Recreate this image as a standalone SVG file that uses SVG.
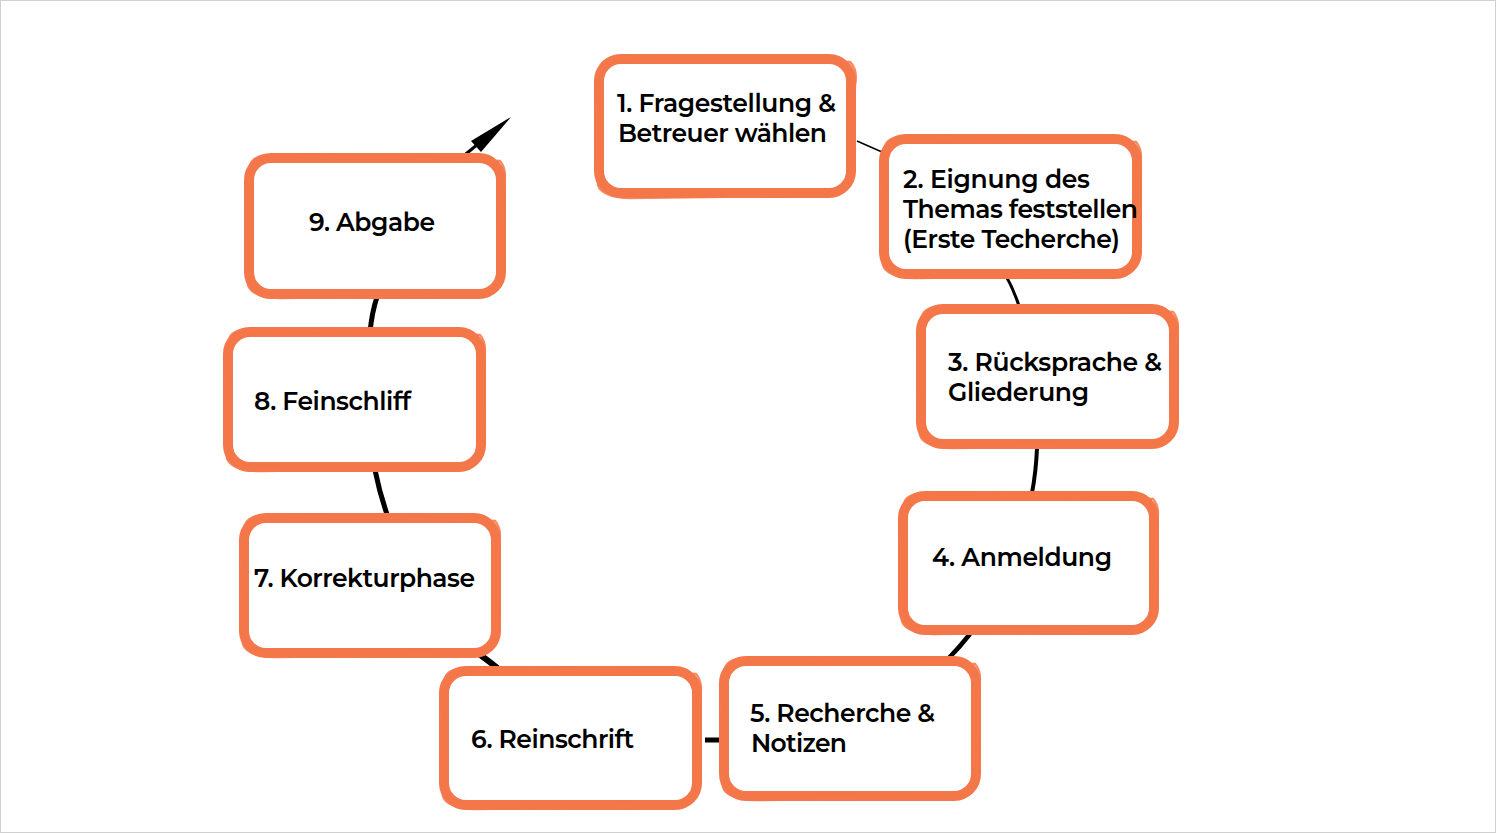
<svg xmlns="http://www.w3.org/2000/svg" width="1496" height="833" viewBox="0 0 1496 833">
<defs>
<style>
.box{fill:#fff;stroke:#F4774A;stroke-width:10}
.sk{fill:none;stroke:#F4774A;stroke-width:2.5;opacity:0.85}
.t{font-family:"Montserrat","Open Sans","Noto Sans",sans-serif;font-weight:600;font-size:25px;fill:#000}
.c{fill:none;stroke:#000;stroke-linecap:butt}
</style>
</defs>
<rect x="0.5" y="0.5" width="1495" height="832" fill="#fff" stroke="#d0d0d0" stroke-width="1"/>
<g id="connectors">
<path class="c" d="M857,141 L882,152" stroke-width="1.5"/>
<path class="c" d="M1006,276 Q1014,290 1020,309" stroke-width="3"/>
<path class="c" d="M1037,448 Q1036,472 1032,493" stroke-width="4"/>
<path class="c" d="M970,634 Q959,648 946,661" stroke-width="4.5"/>
<path class="c" d="M720,740 L705,740" stroke-width="5"/>
<path class="c" d="M479,654 Q490,662 500,670" stroke-width="6"/>
<path class="c" d="M375,470 Q380,495 388,517" stroke-width="5"/>
<path class="c" d="M377,297 Q372,312 370,332" stroke-width="5"/>
<path class="c" d="M461,158 L478,144" stroke-width="3"/>
<path d="M511,117 L471,141 L481,152 Z" fill="#000"/>
</g>
<g id="n1">
<rect class="box" x="599" y="59" width="252" height="134" rx="22"/>
<path class="sk" d="M600,72 Q598,58 620,57 L850,62 Q858,70 855,85 L852,180 M596,100 L598,185 Q602,197 630,198 L790,196"/>
<text class="t" x="617" y="112" textLength="219">1. Fragestellung &amp;</text>
<text class="t" x="618" y="142" textLength="209">Betreuer wählen</text>
</g>
<g id="n2">
<rect class="box" x="884" y="139" width="253" height="135" rx="22"/>
<path class="sk" d="M885,152 Q883,137 905,136 L1136,142 Q1143,150 1140,165 L1137,260 M881,180 L883,265 Q887,277 915,278 L1075,276"/>
<text class="t" x="903" y="188" textLength="187">2. Eignung des</text>
<text class="t" x="903" y="218" textLength="235">Themas feststellen</text>
<text class="t" x="903" y="248" textLength="217">(Erste Techerche)</text>
</g>
<g id="n3">
<rect class="box" x="921" y="309" width="253" height="135" rx="22"/>
<path class="sk" d="M922,322 Q920,307 942,306 L1173,312 Q1180,320 1177,335 L1174,430 M918,350 L920,435 Q924,447 952,448 L1112,446"/>
<text class="t" x="948" y="371" textLength="214">3. Rücksprache &amp;</text>
<text class="t" x="948" y="401" textLength="141">Gliederung</text>
</g>
<g id="n4">
<rect class="box" x="903" y="496" width="251" height="134" rx="22"/>
<path class="sk" d="M904,509 Q902,494 924,493 L1153,499 Q1160,507 1157,522 L1154,616 M900,537 L902,621 Q906,633 934,634 L1092,632"/>
<text class="t" x="932" y="566" textLength="180">4. Anmeldung</text>
</g>
<g id="n5">
<rect class="box" x="724" y="661" width="252" height="135" rx="22"/>
<path class="sk" d="M725,674 Q723,659 745,658 L975,664 Q982,672 979,687 L976,782 M721,702 L723,787 Q727,799 755,800 L914,798"/>
<text class="t" x="750" y="722" textLength="185">5. Recherche &amp;</text>
<text class="t" x="751" y="752" textLength="96">Notizen</text>
</g>
<g id="n6">
<rect class="box" x="444" y="671" width="253" height="134" rx="22"/>
<path class="sk" d="M445,684 Q443,669 465,668 L696,674 Q703,682 700,697 L697,791 M441,712 L443,796 Q447,808 475,809 L635,807"/>
<text class="t" x="471" y="748" textLength="163">6. Reinschrift</text>
</g>
<g id="n7">
<rect class="box" x="244" y="518" width="252" height="135" rx="22"/>
<path class="sk" d="M245,531 Q243,516 265,515 L495,521 Q502,529 499,544 L496,639 M241,559 L243,644 Q247,656 275,657 L434,655"/>
<text class="t" x="254" y="587" textLength="221">7. Korrekturphase</text>
</g>
<g id="n8">
<rect class="box" x="228" y="332" width="253" height="135" rx="22"/>
<path class="sk" d="M229,345 Q227,330 249,329 L480,335 Q487,343 484,358 L481,453 M225,373 L227,458 Q231,470 259,471 L419,469"/>
<text class="t" x="254" y="410" textLength="157">8. Feinschliff</text>
</g>
<g id="n9">
<rect class="box" x="249" y="158" width="252" height="136" rx="22"/>
<path class="sk" d="M250,171 Q248,156 270,155 L500,161 Q507,169 504,184 L501,280 M246,199 L248,285 Q252,297 280,298 L439,296"/>
<text class="t" x="309" y="231" textLength="126">9. Abgabe</text>
</g>
</svg>
